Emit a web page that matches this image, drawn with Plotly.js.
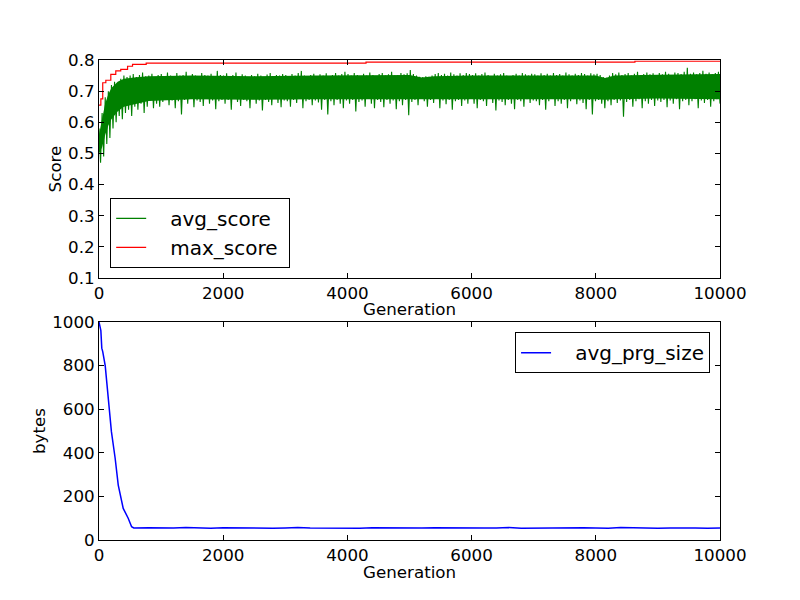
<!DOCTYPE html>
<html>
<head>
<meta charset="utf-8">
<script src="https://cdn.plot.ly/plotly-3.0.1.min.js"></script>
<style>
  body { margin: 0; background: #fff; }
  #chart { width: 800px; height: 600px; }
</style>
</head>
<body>
<div id="chart"></div>
<script>
/***********
  DATA
************/

const avgHigh = [
  0.58,0.63,0.68,0.70,0.72,0.73,0.72,0.74,0.75,0.745,0.75,0.755,0.745,0.752,0.76,0.748,0.75,0.756,0.745,0.752,
  0.755,0.748,0.76,0.75,0.745,0.758,0.75,0.752,0.762,0.748,0.755,0.75,0.745,0.758,0.752,0.75,0.756,0.748,0.765,0.752,
  0.75,0.757,0.745,0.752,0.76,0.748,0.754,0.75,0.745,0.752,0.748,0.756,0.75,0.745,0.753,0.758,0.748,0.752,0.75,0.755,
  0.752,0.748,0.755,0.75,0.758,0.765,0.75,0.745,0.752,0.756,0.748,0.754,0.75,0.757,0.748,0.752,0.758,0.75,0.755,0.762,
  0.755,0.75,0.758,0.752,0.748,0.756,0.75,0.76,0.752,0.748,0.755,0.758,0.75,0.754,0.762,0.75,0.752,0.758,0.754,0.757,
  0.768,0.755,0.75,0.746,0.745,0.748,0.746,0.75,0.755,0.758,0.752,0.756,0.75,0.76,0.754,0.75,0.757,0.752,0.758,0.755,
  0.752,0.757,0.75,0.755,0.76,0.752,0.748,0.756,0.75,0.754,0.758,0.75,0.745,0.752,0.756,0.75,0.758,0.754,0.75,0.756,
  0.754,0.75,0.757,0.752,0.756,0.75,0.758,0.752,0.755,0.75,0.76,0.754,0.75,0.756,0.752,0.758,0.755,0.75,0.757,0.754,
  0.756,0.752,0.745,0.743,0.75,0.758,0.754,0.76,0.752,0.755,0.758,0.75,0.756,0.762,0.752,0.755,0.76,0.754,0.757,0.752,
  0.758,0.754,0.762,0.756,0.752,0.76,0.758,0.755,0.762,0.775,0.756,0.76,0.754,0.758,0.765,0.756,0.76,0.754,0.758,0.762
];
const avgLow = [
  0.47,0.49,0.53,0.55,0.58,0.60,0.62,0.61,0.63,0.64,0.62,0.65,0.64,0.66,0.63,0.65,0.67,0.645,0.66,0.65,
  0.665,0.672,0.655,0.67,0.645,0.668,0.625,0.672,0.66,0.675,0.648,0.67,0.665,0.652,0.675,0.66,0.67,0.642,0.668,0.672,
  0.66,0.672,0.64,0.675,0.665,0.652,0.672,0.668,0.645,0.674,0.66,0.67,0.638,0.672,0.665,0.655,0.675,0.662,0.648,0.67,
  0.668,0.65,0.672,0.662,0.675,0.645,0.668,0.672,0.655,0.67,0.664,0.64,0.672,0.625,0.668,0.655,0.672,0.66,0.645,0.67,
  0.66,0.672,0.635,0.665,0.67,0.65,0.675,0.66,0.645,0.672,0.665,0.648,0.672,0.66,0.67,0.642,0.668,0.655,0.672,0.623,
  0.665,0.672,0.655,0.675,0.668,0.65,0.672,0.662,0.675,0.645,0.67,0.658,0.672,0.64,0.668,0.672,0.652,0.67,0.66,0.675,
  0.66,0.645,0.672,0.668,0.652,0.675,0.662,0.638,0.67,0.665,0.655,0.672,0.66,0.642,0.672,0.668,0.65,0.674,0.662,0.67,
  0.668,0.655,0.672,0.64,0.668,0.675,0.652,0.668,0.66,0.672,0.645,0.668,0.674,0.658,0.67,0.662,0.642,0.672,0.625,0.668,
  0.672,0.66,0.645,0.668,0.655,0.672,0.662,0.67,0.618,0.665,0.672,0.65,0.668,0.674,0.645,0.668,0.66,0.672,0.652,0.67,
  0.665,0.672,0.648,0.67,0.66,0.674,0.642,0.668,0.672,0.655,0.668,0.674,0.645,0.67,0.662,0.672,0.65,0.668,0.674,0.66
];

// solid core of the green band (where the line is too dense to see through)
const coreGen = [0, 50, 100, 150, 200, 300, 400, 600, 800, 1500, 2500, 3500, 4500, 5000, 5200, 5400,
  6000, 7000, 8000, 8150, 8300, 9000, 10000];
const coreTop = [0.56, 0.61, 0.66, 0.69, 0.71, 0.73, 0.74, 0.745, 0.748, 0.75, 0.748, 0.75, 0.75, 0.752, 0.744, 0.748,
  0.75, 0.75, 0.75, 0.742, 0.75, 0.753, 0.755];
const coreBottom = [0.50, 0.52, 0.56, 0.59, 0.61, 0.635, 0.65, 0.66, 0.668, 0.674, 0.672, 0.674, 0.674, 0.676, 0.674, 0.674,
  0.674, 0.674, 0.674, 0.672, 0.674, 0.676, 0.674];

// max_score steps
const maxGen = [0, 30, 60, 110, 190, 270, 350, 460, 540, 760, 4300, 8630, 10000];
const maxScore = [0.655, 0.675, 0.727, 0.735, 0.754, 0.765, 0.77, 0.78, 0.786, 0.79, 0.793, 0.796, 0.796];

// avg_prg_size
const sizeGen = [0, 30, 45, 60, 100, 150, 200, 260, 310, 390, 470, 525, 560,
  800, 1000, 1200, 1400, 1600, 1800, 2000, 2200, 2400, 2600, 2800, 3000, 3200, 3400, 3600, 3800,
  4000, 4200, 4400, 4600, 4800, 5000, 5200, 5400, 5600, 5800, 6000, 6200, 6400, 6600, 6800,
  7000, 7200, 7400, 7600, 7800, 8000, 8200, 8400, 8600, 8800, 9000, 9200, 9400, 9600, 9800, 10000];
const sizeBytes = [1000, 960, 880, 864, 800, 650, 497, 375, 252, 145, 100, 61, 55,
  56, 54, 55, 57, 55, 54, 56, 55, 55, 56, 54, 55, 57, 55, 54, 56,
  55, 54, 56, 55, 57, 54, 55, 56, 55, 54, 56, 55, 55, 57, 54,
  55, 56, 54, 55, 56, 55, 54, 57, 55, 56, 54, 55, 56, 55, 54, 55];

/***********
  CHART
************/

function zigzag(high, low, xmax) {
  // alternate top and bottom of the band so the line looks like the dense original
  let xs = [], ys = [];
  let n = high.length * 2;
  for (let i = 0; i < high.length; i++) {
    xs.push((2 * i) * xmax / (n - 1));
    ys.push(high[i]);
    xs.push((2 * i + 1) * xmax / (n - 1));
    ys.push(low[i]);
  }
  return {x: xs, y: ys};
}

function drawChart() {
  let band = zigzag(avgHigh, avgLow, 10000);
  let font = {family: 'DejaVu Sans, sans-serif', size: 16.7, color: '#000'};
  let pad = '\u00a0\u00a0\u00a0';

  let coreTrace = {
    x: coreGen.concat(coreGen.slice().reverse()),
    y: coreTop.concat(coreBottom.slice().reverse()),
    mode: 'lines', fill: 'toself', fillcolor: '#008000',
    line: {color: '#008000', width: 0}, showlegend: false, hoverinfo: 'skip',
    xaxis: 'x', yaxis: 'y'
  };
  let avgTrace = {
    x: band.x, y: band.y, name: pad + 'avg_score' + '\u00a0', mode: 'lines',
    line: {color: '#008000', width: 1.1}, xaxis: 'x', yaxis: 'y', legend: 'legend'
  };
  let maxTrace = {
    x: maxGen, y: maxScore, name: pad + 'max_score' + '\u00a0', mode: 'lines',
    line: {color: '#ff0000', width: 1.2, shape: 'hv'}, xaxis: 'x', yaxis: 'y', legend: 'legend'
  };
  let sizeTrace = {
    x: sizeGen, y: sizeBytes, name: pad + 'avg_prg_size', mode: 'lines',
    line: {color: '#0000ff', width: 1.5}, xaxis: 'x2', yaxis: 'y2', legend: 'legend2'
  };

  let axisStyle = {
    showline: true, mirror: 'ticks', linecolor: '#000', linewidth: 1,
    ticks: 'inside', ticklen: 5, tickcolor: '#000', showgrid: false, zeroline: false,
    tickfont: font
  };

  let legendStyle = {
    bgcolor: '#fff', bordercolor: '#000', borderwidth: 1,
    font: {family: 'DejaVu Sans, sans-serif', size: 20, color: '#000'},
    itemwidth: 30
  };

  // x axis titles as paper annotations so they sit just under the tick labels
  let xTitle = (y) => ({
    text: 'Generation', xref: 'paper', yref: 'paper', x: 0.5, y: y,
    xanchor: 'center', yanchor: 'middle', showarrow: false, font: font
  });

  let layout = {
    width: 800, height: 600,
    margin: {l: 99, r: 80, t: 60, b: 60},
    paper_bgcolor: '#fff', plot_bgcolor: '#fff',
    font: font,
    showlegend: true,
    xaxis: Object.assign({}, axisStyle, {
      domain: [0, 1], anchor: 'y', range: [0, 10000], dtick: 2000, tickformat: 'd'
    }),
    yaxis: Object.assign({}, axisStyle, {
      domain: [0.5458, 1], anchor: 'x', range: [0.1, 0.8], dtick: 0.1, tickformat: '.1f',
      title: {text: 'Score', font: font, standoff: 2}
    }),
    xaxis2: Object.assign({}, axisStyle, {
      domain: [0, 1], anchor: 'y2', range: [0, 10000], dtick: 2000, tickformat: 'd'
    }),
    yaxis2: Object.assign({}, axisStyle, {
      domain: [0, 0.4542], anchor: 'x2', range: [0, 1000], dtick: 200,
      title: {text: 'bytes', font: font, standoff: 2}
    }),
    annotations: [xTitle(0.481), xTitle(-0.066)],
    legend: Object.assign({}, legendStyle, {
      x: 0.018, y: 0.567, xanchor: 'left', yanchor: 'bottom'
    }),
    legend2: Object.assign({}, legendStyle, {
      x: 0.984, y: 0.433, xanchor: 'right', yanchor: 'top'
    })
  };

  Plotly.newPlot('chart', [coreTrace, avgTrace, maxTrace, sizeTrace], layout, {staticPlot: true});
}

drawChart();
</script>
</body>
</html>
